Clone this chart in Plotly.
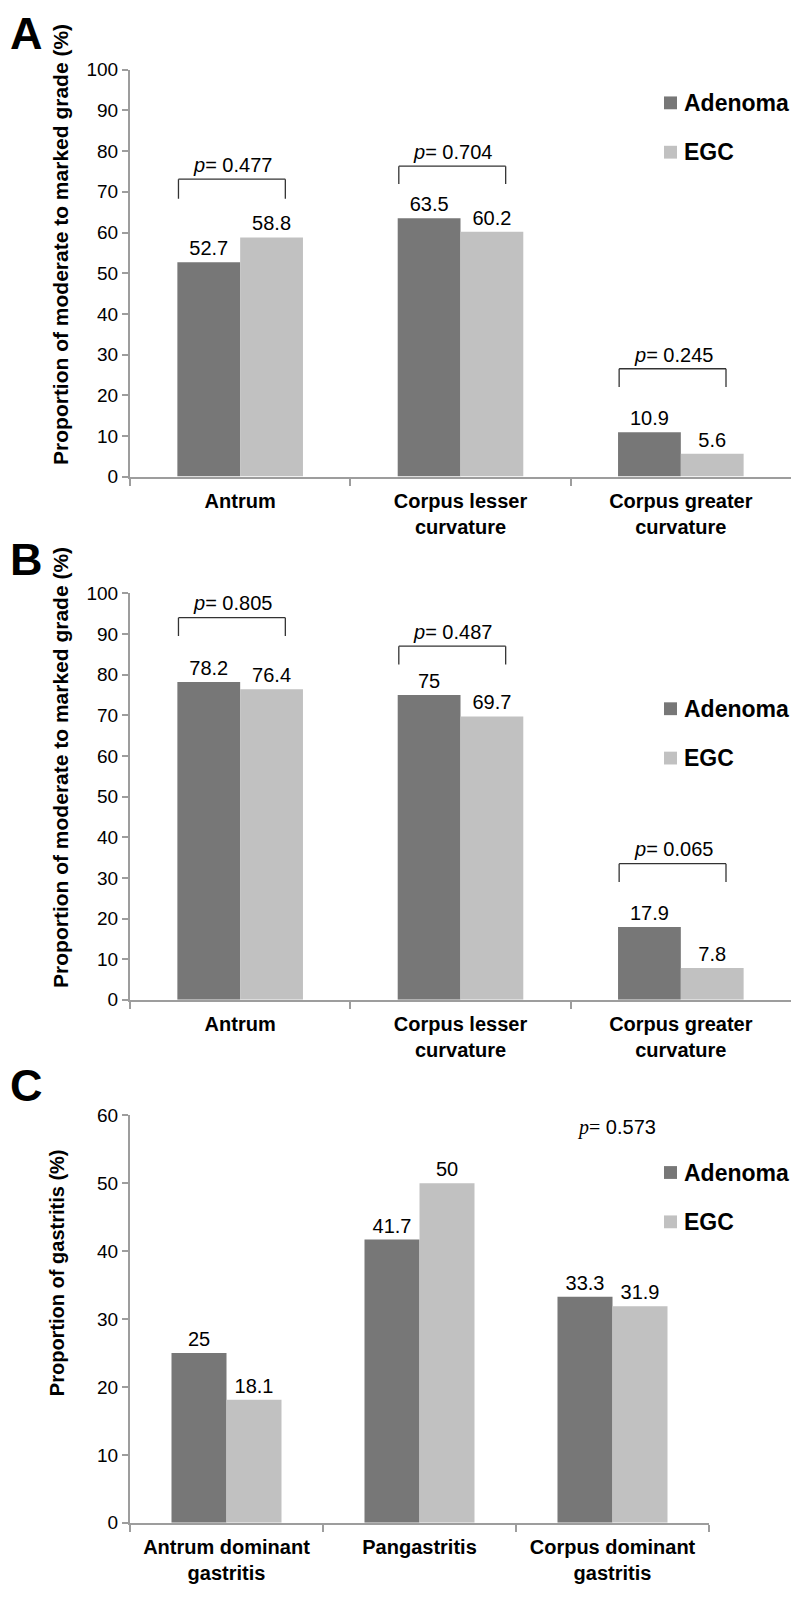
import plotly.graph_objects as go

# ---------------- data ----------------
series_names = ["Adenoma", "EGC"]
cats_ab = ["Antrum", "Corpus lesser<br>curvature", "Corpus greater<br>curvature"]
cats_c = ["Antrum dominant<br>gastritis", "Pangastritis", "Corpus dominant<br>gastritis"]

a_adenoma = [52.7, 63.5, 10.9]
a_egc = [58.8, 60.2, 5.6]
b_adenoma = [78.2, 75, 17.9]
b_egc = [76.4, 69.7, 7.8]
c_adenoma = [25, 41.7, 33.3]
c_egc = [18.1, 50, 31.9]

p_a = ["0.477", "0.704", "0.245"]
p_b = ["0.805", "0.487", "0.065"]
p_c = "0.573"

yticks_ab = list(range(0, 101, 10))
yticks_c = list(range(0, 61, 10))

title_ab = "Proportion of moderate to marked grade (%)"
title_c = "Proportion of gastritis (%)"
panel_letters = ["A", "B", "C"]

# ---------------- style ----------------
# The page body has an 8px margin, so the figure is sized to fill the
# 800x1602 window exactly and page-pixel positions are mapped into it.
OFF = 8
W, H = 800 - 2 * OFF, 1602 - 2 * OFF
FONT = "Liberation Sans, Arial, sans-serif"
DARK = "#777777"
LIGHT = "#c1c1c1"
AXC = "#9d9d9d"
colors = [DARK, LIGHT]


def px(x):
    return min(1.0, max(0.0, (x - OFF) / W))


def py(y):
    return min(1.0, max(0.0, 1 - (y - OFF) / H))


fig = go.Figure()

panels = [
    (cats_ab, [a_adenoma, a_egc], "x", "y"),
    (cats_ab, [b_adenoma, b_egc], "x2", "y2"),
    (cats_c, [c_adenoma, c_egc], "x3", "y3"),
]
for cats, vals, xa, ya in panels:
    for name, v, col in zip(series_names, vals, colors):
        fig.add_trace(go.Bar(
            x=cats, y=v, name=name, marker=dict(color=col, line=dict(width=0)),
            text=[f"{t:g}" for t in v], textposition="outside",
            textfont=dict(family=FONT, size=20, color="black"),
            constraintext="none", cliponaxis=False,
            xaxis=xa, yaxis=ya, showlegend=False,
        ))

# plot-area boxes in page pixels (left, right, top, bottom)
boxes = [(130, 791, 60.5, 472.7), (130, 791, 591, 1003), (130, 709, 1120, 1533)]
yranges = [[0, 100], [0, 100], [0, 60]]
ytv = [yticks_ab, yticks_ab, yticks_c]

layout_axes = {}
for i, ((l, r, t, b), yr, tv) in enumerate(zip(boxes, yranges, ytv)):
    sx = "" if i == 0 else str(i + 1)
    layout_axes["xaxis" + sx] = dict(
        domain=[px(l), px(r)], anchor="y" + sx, type="category",
        showline=True, linecolor=AXC, linewidth=2,
        ticks="outside", tickson="boundaries", ticklen=7, tickwidth=2, tickcolor=AXC,
        ticklabelstandoff=5,
        tickfont=dict(family=FONT, size=20, color="black", weight="bold"),
        showgrid=False, zeroline=False, fixedrange=True,
    )
    layout_axes["yaxis" + sx] = dict(
        domain=[py(b), py(t)], anchor="x" + sx, range=yr,
        tickmode="array", tickvals=tv, ticktext=[str(v) for v in tv],
        showline=True, linecolor=AXC, linewidth=2,
        ticks="outside", ticklen=6, tickwidth=2, tickcolor=AXC,
        tickfont=dict(family=FONT, size=19, color="black"),
        showgrid=False, zeroline=False, fixedrange=True,
    )

shapes = []
annotations = []

# brackets with p-values: (axis suffix, category index, horizontal y, leg bottom y, text y, p)
brackets = [
    ("", 0, 73.1, 68.3, 76.6, p_a[0]),
    ("", 1, 76.3, 71.9, 79.8, p_a[1]),
    ("", 2, 26.5, 22.0, 30.0, p_a[2]),
    ("2", 0, 94.0, 89.5, 97.6, p_b[0]),
    ("2", 1, 87.0, 82.5, 90.6, p_b[1]),
    ("2", 2, 33.5, 29.0, 37.1, p_b[2]),
]
for sx, ci, yh, yl, yt, p in brackets:
    x0, x1 = ci - 0.28, ci + 0.205
    for (xa, ya, xb, yb) in [(x0, yl, x0, yh), (x0, yh, x1, yh), (x1, yh, x1, yl)]:
        shapes.append(dict(type="line", xref="x" + sx, yref="y" + sx,
                           x0=xa, y0=ya, x1=xb, y1=yb,
                           line=dict(color="#333333", width=1.3)))
    annotations.append(dict(xref="x" + sx, yref="y" + sx, x=ci - 0.035, y=yt,
                            text=f"<i>p</i>= {p}", showarrow=False,
                            font=dict(family=FONT, size=20, color="black")))

# panel C p-value
annotations.append(dict(xref="x3", yref="y3", x=2.02, y=58.2,
                        text=f"<span style='font-family:Liberation Serif, Times New Roman, serif'><i>p</i>=</span> {p_c}",
                        showarrow=False, font=dict(family=FONT, size=20, color="black")))

# legends (page-pixel centres of the two entries in each panel)
legend_y = [(94, 144), (708, 758), (1178, 1228)]
for ys in legend_y:
    for name, col, yc in zip(series_names, colors, ys):
        shapes.append(dict(type="rect", xref="paper", yref="paper",
                           x0=px(664), x1=px(677), y0=py(yc + 6.5), y1=py(yc - 6.5),
                           fillcolor=col, line=dict(width=0)))
        annotations.append(dict(xref="paper", yref="paper", x=px(682), y=py(yc),
                                xanchor="left", yanchor="middle", text=f"<b>{name}</b>",
                                showarrow=False,
                                font=dict(family=FONT, size=23, color="black")))

# panel letters (left-anchored at the figure's left edge so nothing is clipped)
for letter, yc in zip(panel_letters, [24, 557, 1090]):
    annotations.append(dict(xref="paper", yref="paper", x=px(OFF), y=py(yc),
                            xanchor="left", yanchor="middle", text=f"<b>{letter}</b>",
                            showarrow=False,
                            font=dict(family=FONT, size=45, color="black")))

# y-axis titles
for txt, (xc, yc), fs in zip([title_ab, title_ab, title_c],
                             [(61, 238), (61, 768), (57, 1280)], [21, 21, 20]):
    annotations.append(dict(xref="paper", yref="paper", x=px(xc), y=py(yc),
                            xanchor="center", yanchor="middle", text=f"<b>{txt}</b>",
                            textangle=-90, showarrow=False,
                            font=dict(family=FONT, size=fs, color="black")))

fig.update_layout(
    width=W, height=H, margin=dict(l=0, r=0, t=0, b=0),
    paper_bgcolor="white", plot_bgcolor="white",
    barmode="group", bargap=0.43, bargroupgap=0,
    showlegend=False, shapes=shapes, annotations=annotations,
    font=dict(family=FONT, color="black"),
    **layout_axes,
)

fig.write_html("out.html")
